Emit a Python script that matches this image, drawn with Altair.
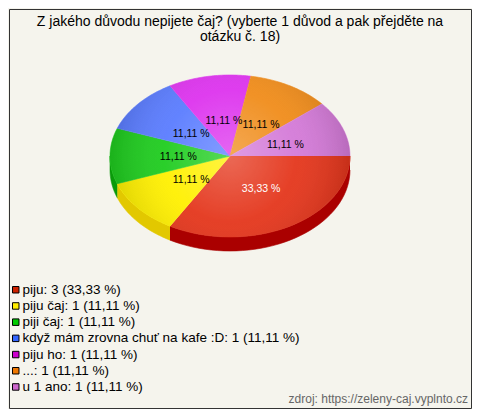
import altair as alt
import pandas as pd

# ---------------- data ----------------
title_lines = [
    "Z jakého důvodu nepijete čaj? (vyberte 1 důvod a pak přejděte na",
    "otázku č. 18)",
]
categories = [
    "piju",
    "piju čaj",
    "piji čaj",
    "když mám zrovna chuť na kafe :D",
    "piju ho",
    "...",
    "u 1 ano",
]
counts = [3, 1, 1, 1, 1, 1, 1]
source_text = "zdroj: https://zeleny-caj.vyplnto.cz"

# ---------------- style ----------------
TOP_COLORS = ["#e4361c", "#fff000", "#1fcc1f", "#5a7cff", "#dd33ee", "#f08c1a", "#d47ad8"]
SIDE_COLORS = ["#aa0000", "#e2c800", "#0a9a0a", "#3355cc", "#aa11bb", "#c06a00", "#a855aa"]
LEGEND_COLORS = ["#cc2200", "#ffee00", "#00cc00", "#3366ff", "#cc00cc", "#ee7700", "#cc66cc"]
LABEL_COLORS = ["#ffffff", "#000000", "#000000", "#000000", "#000000", "#000000", "#000000"]
BG = "#f5f4ed"
FONT = "Liberation Sans"

W, H = 462, 399           # plot area (padding 1 -> 464 x 401)
OFF = 9                    # page offset of plot origin
CX, CY = 230 - OFF, 156 - OFF
RX, RY, DEPTH = 120, 81, 14
K = RY / RX
DEP = DEPTH / RX
LAB_R = 0.46               # label radius (fraction of radii)
LAB_DX, LAB_DY = 3.5 / RX, 1.0 / RX


def fmt(p):
    return f"{p:.2f}".replace(".", ",") + " %"


total = sum(counts)
pcts = [c / total * 100 for c in counts]
legend_labels = [f"{c}: {n} ({fmt(p)})" for c, n, p in zip(categories, counts, pcts)]

df = pd.DataFrame({
    "cat": categories,
    "count": counts,
    "idx": list(range(len(categories))),
    "leg": legend_labels,
    "lab": [fmt(p) for p in pcts],
})

xs = alt.Scale(domain=[-CX / RX, (W - CX) / RX], nice=False, zero=False)
ys = alt.Scale(domain=[-CY / RX, (H - CY) / RX], nice=False, zero=False, reverse=True)
X = alt.X("x:Q", scale=xs, axis=None)
Y = alt.Y("y:Q", scale=ys, axis=None)

base = (
    alt.Chart(df)
    .transform_joinaggregate(total="sum(count)")
    .transform_window(cum="sum(count)", sort=[alt.SortField("idx")], frame=[None, 0])
    .transform_calculate(
        a0="2*PI*(datum.cum-datum.count)/datum.total",
        a1="2*PI*datum.cum/datum.total",
    )
)

# legend carrier (hidden under the pie)
legend_layer = (
    alt.Chart(df)
    .transform_calculate(x="0", y="0")
    .mark_square(size=30, filled=True, opacity=1)
    .encode(
        x=X, y=Y,
        color=alt.Color(
            "leg:N",
            scale=alt.Scale(domain=legend_labels, range=LEGEND_COLORS),
            legend=alt.Legend(
                title=None, orient="none", legendX=0, legendY=274,
                symbolType="square", symbolSize=42,
                symbolStrokeColor="#000000", symbolStrokeWidth=1,
                labelFont=FONT, labelFontSize=13.5, labelColor="#000000",
                rowPadding=1.2, labelOffset=0, padding=0, labelLimit=460,
            ),
        ),
    )
)

# side walls (front half only)
side = (
    base.transform_calculate(s0="max(datum.a0, 0)", s1="min(datum.a1, PI)")
    .transform_filter("datum.s1 > datum.s0")
    .transform_calculate(pts="sequence(0, 82)")
    .transform_flatten(["pts"])
    .transform_calculate(
        t="datum.pts <= 40 ? datum.s0 + (datum.s1-datum.s0)*datum.pts/40 : datum.s0 + (datum.s1-datum.s0)*(81-datum.pts)/40",
        x="cos(datum.t)",
        y=f"{K}*sin(datum.t) + (datum.pts > 40 ? {DEP} : 0)",
    )
    .mark_line(filled=True, strokeWidth=0.6)
    .encode(
        x=X, y=Y,
        fill=alt.Fill("cat:N", scale=alt.Scale(domain=categories, range=SIDE_COLORS), legend=None),
        stroke=alt.Stroke("cat:N", scale=alt.Scale(domain=categories, range=SIDE_COLORS), legend=None),
        order=alt.Order("pts:Q"),
        detail="cat:N",
    )
)

# top surface slices
top = (
    base.transform_calculate(pts="sequence(0, 42)")
    .transform_flatten(["pts"])
    .transform_calculate(
        t="datum.a0 + (datum.a1-datum.a0)*(datum.pts-1)/40",
        x="datum.pts == 0 ? 0 : cos(datum.t)",
        y=f"datum.pts == 0 ? 0 : {K}*sin(datum.t)",
    )
    .mark_line(filled=True, strokeWidth=0.6)
    .encode(
        x=X, y=Y,
        fill=alt.Fill("cat:N", scale=alt.Scale(domain=categories, range=TOP_COLORS), legend=None),
        stroke=alt.Stroke("cat:N", scale=alt.Scale(domain=categories, range=TOP_COLORS), legend=None),
        order=alt.Order("pts:Q"),
        detail="cat:N",
    )
)

# shading overlay on the top surface
shade = (
    alt.Chart(pd.DataFrame({"one": [1]}))
    .transform_calculate(pts="sequence(0, 121)")
    .transform_flatten(["pts"])
    .transform_calculate(
        t="2*PI*datum.pts/120",
        x="cos(datum.t)",
        y=f"{K}*sin(datum.t)",
    )
    .mark_line(
        strokeWidth=0,
        fill=alt.RadialGradient(
            gradient="radial",
            stops=[
                alt.GradientStop(color="rgba(255,255,255,0.25)", offset=0),
                alt.GradientStop(color="rgba(255,255,255,0.05)", offset=0.55),
                alt.GradientStop(color="rgba(0,0,0,0.13)", offset=1),
            ],
            x1=0.5, y1=0.5, r1=0, x2=0.5, y2=0.5, r2=0.5,
        ),
    )
    .encode(x=X, y=Y, order=alt.Order("pts:Q"))
)

labels = (
    base.transform_calculate(
        mid="(datum.a0+datum.a1)/2",
        x=f"{LAB_R}*cos(datum.mid) + {LAB_DX}",
        y=f"0.45*{K}*sin(datum.mid) + {LAB_DY}",
    )
    .mark_text(font=FONT, fontSize=10.5, baseline="middle", align="center")
    .encode(
        x=X, y=Y, text="lab:N",
        color=alt.Color("cat:N", scale=alt.Scale(domain=categories, range=LABEL_COLORS), legend=None),
    )
)

title = (
    alt.Chart(pd.DataFrame({"t": ["\n".join(title_lines)]}))
    .mark_text(lineBreak="\n", align="center", baseline="alphabetic",
               font=FONT, fontSize=14, lineHeight=15, color="#000000")
    .encode(text="t:N", x=alt.value(240 - OFF), y=alt.value(25.5 - OFF))
)

source = (
    alt.Chart(pd.DataFrame({"s": [source_text]}))
    .mark_text(align="right", baseline="alphabetic", font=FONT, fontSize=12, color="#666666")
    .encode(text="s:N", x=alt.value(468 - OFF), y=alt.value(394))
)

chart = (
    alt.layer(legend_layer, side, top, shade, labels, title, source)
    .resolve_scale(color="independent", fill="independent", stroke="independent")
    .properties(width=W, height=H, padding=1, background=BG)
    .configure_view(stroke="#333333", strokeWidth=1)
)

chart.save("out.html", embed_options={"renderer": "svg", "actions": False})
